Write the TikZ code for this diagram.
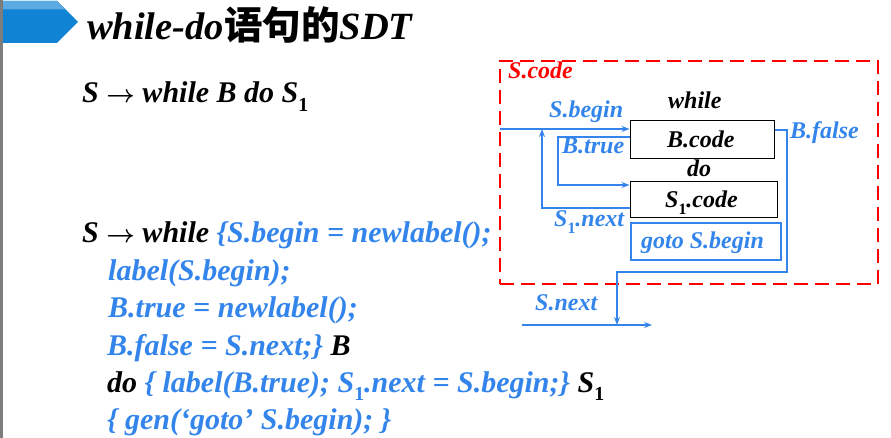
\documentclass[tikz,border=0pt]{standalone}
\usepackage{fontspec}
\setmainfont{Liberation Serif}
\newfontfamily\cjk{Noto Sans CJK SC}
\usetikzlibrary{arrows.meta,calc}
\definecolor{tblue}{RGB}{51,133,235}
\definecolor{bandark}{RGB}{16,131,212}
\definecolor{banlight}{RGB}{92,170,226}
\definecolor{grbar}{RGB}{125,125,125}
\newcommand{\subone}{\raisebox{-0.28em}{\fontsize{0.66em}{0.66em}\selectfont\upshape 1}}
\newcommand{\rarr}{{\boldmath$\rightarrow$}}
\tikzset{
  txt/.style={anchor=base west, inner sep=0pt, font=\fontsize{30}{30}\selectfont\bfseries\itshape},
  lbl/.style={anchor=base west, inner sep=0pt, font=\fontsize{24}{24}\selectfont\bfseries\itshape},
  codebox/.style={draw=black, line width=1pt, inner sep=0pt},
  conn/.style={draw=tblue, line width=1.2pt},
  arr/.style={conn, -{Stealth[length=8pt,width=6pt]}},
}
\begin{document}
\begin{tikzpicture}[x=1pt,y=-1pt]
\useasboundingbox (0,0) rectangle (891,438);
% side bar and banner
\fill[grbar] (0,0) rectangle (3,438);
\fill[bandark] (3,1) -- (57,1) -- (78,22) -- (57,43) -- (3,43) -- cycle;
\fill[banlight] (3,1) -- (57,1) -- (65.5,9.5) -- (3,9.5) -- cycle;
\node[anchor=base west, inner sep=0pt, font=\fontsize{38.5}{38.5}\selectfont\bfseries\itshape] (title) at (87,40) {while-do{\cjk\upshape\bfseries 语句的}SDT};
% rules
\node[txt] (rule1) at (82,103) {S \rarr{} while B do S\subone};
\node[txt] (l1) at (82,243) {S \rarr{} while \textcolor{tblue}{\{S.begin = newlabel();}};
\node[txt, text=tblue] (l2) at (108,280) {label(S.begin);};
\node[txt, text=tblue] (l3) at (108,317) {B.true = newlabel();};
\node[txt] (l4) at (107,355) {\textcolor{tblue}{B.false = S.next;\}} B};
\node[txt] (l5) at (107,392) {do \textcolor{tblue}{\{ label(B.true); S\subone.next = S.begin;\}} S\subone};
\node[txt, text=tblue] (l6) at (107,429) {\{ gen(‘goto’ S.begin); \}};
% diagram
\node[draw=red, line width=2pt, dash pattern=on 14pt off 7pt, minimum width=378pt, minimum height=223pt, inner sep=0pt] (scode) at (689,172.5) {};
\node[lbl, text=red] (scodel) at (508,79) {S.code};
\node[codebox, minimum width=144pt, minimum height=38pt] (bcode) at (702,140) {};
\node[lbl] at (667,148) {B.code};
\node[codebox, minimum width=147pt, minimum height=36pt] (s1code) at (703.5,200) {};
\node[lbl] (s1codel) at (665,208) {S\subone.code};
\node[draw=tblue, line width=1.2pt, minimum width=150pt, minimum height=37pt, inner sep=0pt] (gotob) at (706,241.5) {};
\node[lbl, text=tblue] (gotol) at (641,249) {goto S.begin};
\node[lbl] (whilel) at (668,109) {while};
\node[lbl] (dol) at (687,177) {do};
\node[lbl, text=tblue] (sbeginl) at (549,118) {S.begin};
\node[lbl, text=tblue] (btruel) at (562,154) {B.true};
\node[lbl, text=tblue] (s1nextl) at (554,227) {S\subone.next};
\node[lbl, text=tblue] (bfalsel) at (790,139) {B.false};
\node[lbl, text=tblue] (snextl) at (535,310) {S.next};
% connectors
\coordinate (sb) at (500,129);
\draw[arr] (sb) -- (sb -| bcode.west);
\coordinate (btx) at (558,137);
\coordinate (bty) at (558,185);
\draw[arr] (btx -| bcode.west) -- (btx) -- (bty) -- (bty -| s1code.west);
\coordinate (snx) at (542,208);
\draw[arr] (snx -| s1code.west) -- (snx) -- (snx |- sb);
\coordinate (bf) at (787,130);
\coordinate (bfd) at (787,272);
\coordinate (snt) at (617,272);
\coordinate (sne) at (617,325);
\draw[arr] (bf -| bcode.east) -- (bf) -- (bfd) -- (snt) -- (sne);
\coordinate (nl) at (522,325);
\coordinate (nr) at (652,325);
\draw[arr] (nl) -- (nr);
\end{tikzpicture}
\end{document}
